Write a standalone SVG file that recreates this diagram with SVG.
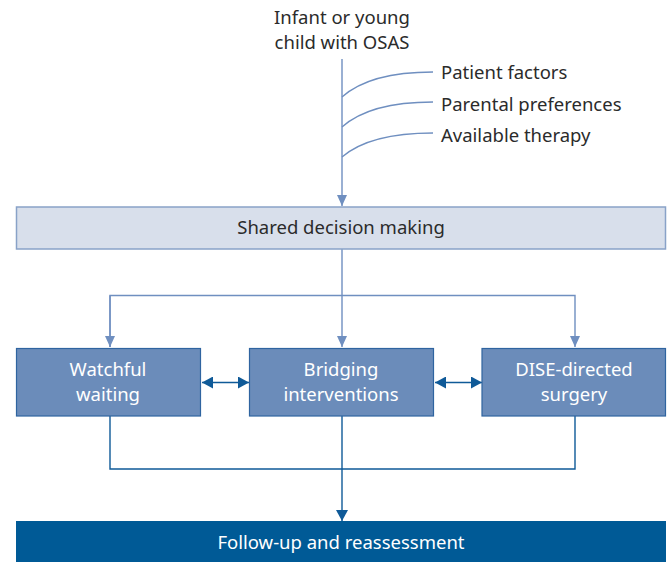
<svg xmlns="http://www.w3.org/2000/svg" width="672" height="562" viewBox="0 0 672 562">
<defs>
<style>
text{font-family:"Source Sans Pro","Noto Sans","Open Sans",sans-serif;font-size:18.5px}
.dark{fill:#2b2b2b}
.white{fill:#ffffff}
.lt{fill:none;stroke:#6f8fc0;stroke-width:1.4}
.dk{fill:none;stroke:#0f5a98;stroke-width:1.4}
</style>
<marker id="al" markerWidth="12" markerHeight="10" refX="11" refY="5" orient="auto" markerUnits="userSpaceOnUse"><path d="M0,0 L11,5 L0,10 Z" fill="#6f8fc0"/></marker>
<marker id="ad" markerWidth="12" markerHeight="12" refX="11" refY="6" orient="auto-start-reverse" markerUnits="userSpaceOnUse"><path d="M0,0 L11,6 L0,12 Z" fill="#0f5a98"/></marker>
</defs>
<g id="connectors">
<path class="lt" d="M342,59 V206" marker-end="url(#al)"/>
<path class="lt" d="M342,97 Q370,72 433,72"/>
<path class="lt" d="M342,127 Q370,102 433,102"/>
<path class="lt" d="M342,157 Q370,133 433,133"/>
<path class="lt" d="M342,249 V347" marker-end="url(#al)"/>
<path class="lt" d="M110,347 V295.5 H575 V347" marker-end="url(#al)"/>
<path class="lt" d="M110,295.5 V347" marker-end="url(#al)"/>
<path class="dk" d="M202,382.5 H249" marker-start="url(#ad)" marker-end="url(#ad)"/>
<path class="dk" d="M435,382.5 H482" marker-start="url(#ad)" marker-end="url(#ad)"/>
<path class="dk" d="M110,416 V469 H575 V416"/>
<path class="dk" d="M342,416 V521" marker-end="url(#ad)"/>
</g>
<g id="start">
<text class="dark" x="342" y="24" text-anchor="middle">Infant or young</text>
<text class="dark" x="342" y="49" text-anchor="middle">child with OSAS</text>
</g>
<g id="factors">
<text class="dark" x="441" y="79">Patient factors</text>
<text class="dark" x="441" y="111">Parental preferences</text>
<text class="dark" x="441" y="142">Available therapy</text>
</g>
<g id="shared">
<rect x="16.5" y="207" width="649" height="42" fill="#d8dfeb" stroke="#89a2c8" stroke-width="1.5"/>
<text class="dark" x="341" y="234" text-anchor="middle">Shared decision making</text>
</g>
<g id="watchful">
<rect x="16.5" y="348.5" width="184" height="67.5" fill="#6b8cba" stroke="#2f64a0" stroke-width="1.2"/>
<text class="white" x="108" y="376" text-anchor="middle">Watchful</text>
<text class="white" x="108" y="401" text-anchor="middle">waiting</text>
</g>
<g id="bridging">
<rect x="249.5" y="348.5" width="184" height="67.5" fill="#6b8cba" stroke="#2f64a0" stroke-width="1.2"/>
<text class="white" x="341" y="376" text-anchor="middle">Bridging</text>
<text class="white" x="341" y="401" text-anchor="middle">interventions</text>
</g>
<g id="dise">
<rect x="482" y="348.5" width="183.5" height="67.5" fill="#6b8cba" stroke="#2f64a0" stroke-width="1.2"/>
<text class="white" x="574" y="376" text-anchor="middle">DISE-directed</text>
<text class="white" x="574" y="401" text-anchor="middle">surgery</text>
</g>
<g id="followup">
<rect x="16" y="521" width="650" height="41" fill="#005a96"/>
<text class="white" x="341" y="549" text-anchor="middle">Follow-up and reassessment</text>
</g>
</svg>
